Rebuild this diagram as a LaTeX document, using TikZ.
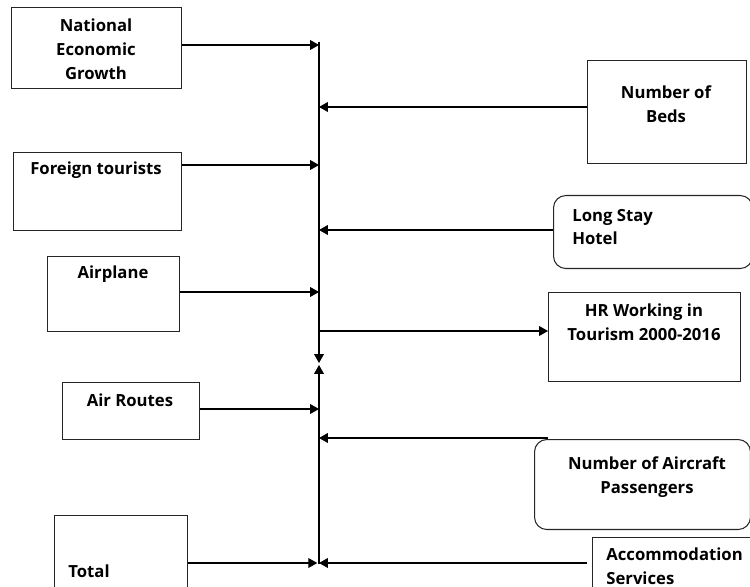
\documentclass[tikz,border=0pt]{standalone}
\usepackage{fontspec}
\setmainfont{Open Sans}
\usetikzlibrary{arrows.meta}

\tikzset{
 box/.style={draw=black!85, line width=.6pt, inner sep=0pt, anchor=north west},
 rbox/.style={box, rounded corners=7pt},
 lbl/.style={font=\bfseries\fontsize{9.5}{13.6}\selectfont, inner sep=0pt},
 link/.style={line width=.6pt, -{Triangle[length=5pt,width=5.5pt]}}
}

\begin{document}
\begin{tikzpicture}[x=0.02cm, y=-0.02cm]
\clip (0,0) rectangle (750,587);

\node[box, minimum width=3.4cm, minimum height=1.62cm] (ne) at (11,7) {};
\node[box, minimum width=3.36cm, minimum height=1.56cm] (ft) at (13,152) {};
\node[box, minimum width=2.64cm, minimum height=1.5cm] (ap) at (47,256) {};
\node[box, minimum width=2.74cm, minimum height=1.14cm] (ar) at (62,382) {};
\node[box, minimum width=2.66cm, minimum height=1.6cm] (tot) at (54,515) {};
\node[box, minimum width=3.18cm, minimum height=2.06cm] (nb) at (587,60) {};
\node[rbox, minimum width=3.98cm, minimum height=1.46cm] (ls) at (553,195) {};
\node[box, minimum width=3.84cm, minimum height=1.78cm] (hr) at (548,292) {};
\node[rbox, minimum width=4.32cm, minimum height=1.8cm] (ac) at (534,439) {};
\node[box, minimum width=3.4cm, minimum height=1.2cm] (as) at (592,537) {};

\node[lbl, align=center] (ne-t) at (96,49) {National\\Economic\\Growth};
\node[lbl] (ft-t) at (96,170) {Foreign tourists};
\node[lbl] (ap-t) at (113,274) {Airplane};
\node[lbl] (ar-t) at (130,400) {Air Routes};
\node[lbl, anchor=west] (tot-t) at (68,571) {Total};
\node[lbl, align=center] (nb-t) at (666,104) {Number of\\Beds};
\node[lbl, align=left, anchor=west] (ls-t) at (572,227) {Long Stay\\Hotel};
\node[lbl, align=center] (hr-t) at (644,322) {HR Working in\\Tourism 2000-2016};
\node[lbl, align=center] (ac-t) at (647,477) {Number of Aircraft\\Passengers};
\node[lbl, align=left, anchor=west] (as-t) at (606,566) {Accommodation\\Services};

\coordinate (top) at (319,42);
\coordinate (mid1) at (319,363);
\coordinate (mid2) at (319,365);
\coordinate (bot) at (319,564);
\foreach \n/\y in {s1/45, s2/107, s3/165, s4/230, s5/292, s6/331, s7/409, s8/438, s9/563}
 \coordinate (\n) at (319,\y);

\draw[link] (top) -- (mid1);
\draw[link] (bot) -- (mid2);

\draw[link] (ne.east |- s1) -- (s1);
\draw[link] (nb.west |- s2) -- (s2);
\draw[link] (ft.east |- s3) -- (s3);
\draw[link] (ls.west |- s4) -- (s4);
\draw[link] (ap.east |- s5) -- (s5);
\draw[link] (s6) -- (hr.west |- s6);
\draw[link] (ar.east |- s7) -- (s7);
\draw[link] ([xshift=.28cm]ac.north west |- s8) -- (s8);
\draw[link, shorten >=1pt] (tot.east |- s9) -- (s9);
\draw[link, shorten <=.1cm] (as.west |- s9) -- (s9);
\end{tikzpicture}
\end{document}
